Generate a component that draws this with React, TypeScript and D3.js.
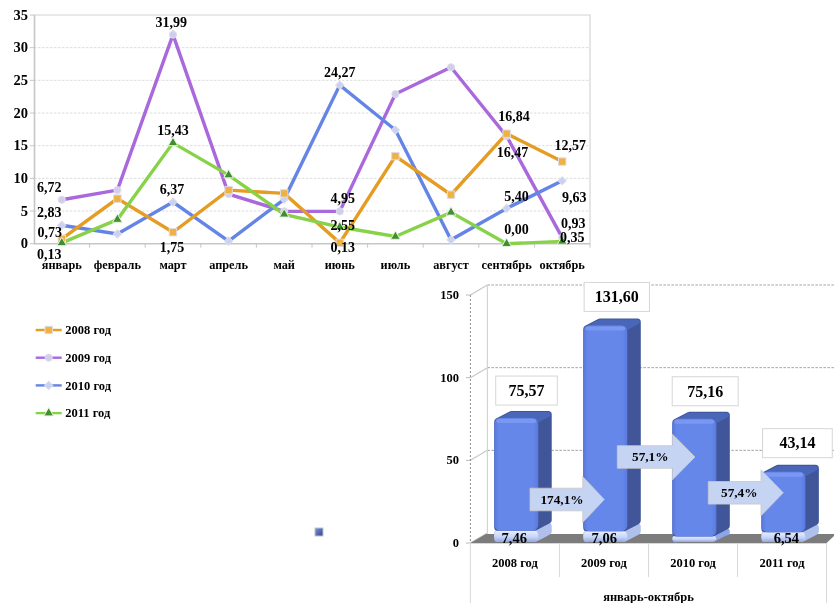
import React from "react";
import * as d3 from "d3";

const months = ["январь","февраль","март","апрель","май","июнь","июль","август","сентябрь","октябрь"];
const seriesNames = ["2008 год","2009 год","2010 год","2011 год"];
const v2008 = [0.73,6.9,1.75,8.2,7.7,0.13,13.4,7.5,16.84,12.57];
const v2009 = [6.72,8.2,31.99,7.6,4.95,4.95,22.9,27,16.47,0.93];
const v2010 = [2.83,1.5,6.37,0.4,6.8,24.27,17.4,0.6,5.40,9.63];
const v2011 = [0.13,3.7,15.43,10.5,4.5,2.55,1.1,4.8,0.00,0.35];
const yearTicks = [0,5,10,15,20,25,30,35];

const years = ["2008 год","2009 год","2010 год","2011 год"];
const totals = [75.57,131.60,75.16,43.14];
const lows = [7.46,7.06,4.0,6.54];
const lowShown = [true,true,false,true];
const totalTicks = [0,50,100,150];
const pctLabels = ["174,1%","57,1%","57,4%"];

const FONT = "'Liberation Serif','Times New Roman',serif";
const colors = ["#E59C22","#A968DC","#6585E6","#88D24A"];
const markerFill = ["#F0B142","#CFCFEC","#C9D2F2","#3F8F2E"];
const fmt = (v:number)=>v.toFixed(2).replace(".",",");

// label placement: series, month, dx, dy
const labelPlace:[number,number,number,number][] = [
 [1,0,-12.5,-12.5],[2,0,-12.5,-13],[0,0,-12,-6.6],[3,0,-12.5,11.5],
 [1,2,-1.7,-12],[3,2,0,-12.5],[2,2,-1,-13],[0,2,-1,15.4],
 [2,5,0,-12.3],[1,5,3,-12.7],[3,5,3,-1.3],[0,5,3,4.4],
 [0,8,7.4,-17.7],[1,8,6,16.3],[2,8,10,-11.8],[3,8,10,-14.4],
 [0,9,8,-16.5],[2,9,12,16.7],[1,9,11,-14.3],[3,9,10,-4],
];
// value boxes: left, width (relative to band left)
const boxPlace:[number,number][] = [[25.3,61.6],[24.7,65.3],[23.7,66],[25,69.7]];
// arrows: x0, x1, headX, tipY, text offset
const arrowPlace:[number,number,number,number,number][] = [[530,604.3,582.7,499.5,32],[617.3,695,672.3,457,33],[708.3,783.3,761,492.8,31]];
const lowLabelShift = [-2,-1,0,3];

function Marker({s,x,y}:{s:number,x:number,y:number}){
  const st={fill:markerFill[s],stroke:s===3?"#E8F0E0":"#DDDDE8",strokeWidth:1};
  if(s===0) return <rect x={x-3.7} y={y-3.7} width={7.4} height={7.4} {...st}/>;
  if(s===3) return <path d={d3.symbol(d3.symbolTriangle,40)()!} transform={`translate(${x},${y})`} {...st}/>;
  if(s===1) return <circle cx={x} cy={y} r={3.6} {...st}/>;
  return <path d={d3.symbol(d3.symbolSquare,34)()!} transform={`translate(${x},${y}) rotate(45)`} {...st}/>;
}

export default function App(){
  const all=[v2008,v2009,v2010,v2011];
  const x=d3.scaleBand<string>().domain(months).range([34,590]);
  const y=d3.scaleLinear().domain([0,35]).range([243.7,15]);
  const cx=(i:number)=>x(months[i])!+x.bandwidth()/2;
  const line=d3.line<number>().x((_,i)=>cx(i)).y(d=>y(d));

  const bx=d3.scaleBand<string>().domain(years).range([470.4,826.6]);
  const by=d3.scaleLinear().domain([0,150]).range([543,295]);
  const barW=44, dX=13.5, dY=7, wallX=17, wallY=10;
  const bl=(i:number)=>bx(years[i])!+bx.bandwidth()/2-barW/2+1.3;
  const floorPts=[[470.4,543],[486,534],[834,534],[834,536],[826.6,543]];

  return (
  <svg width={834} height={603} viewBox="0 0 834 603" style={{position:"absolute",left:0,top:0,background:"#fff"}} fontFamily={FONT} fontWeight="bold" fill="#000">
    <defs>
      <filter id="soft" x="0" y="0" width="100%" height="100%"><feGaussianBlur stdDeviation="0.35"/></filter>
      <linearGradient id="front" x1="0" x2="1" y1="0" y2="0">
        <stop offset="0" stopColor="#5676D8"/><stop offset="0.1" stopColor="#6687EA"/>
        <stop offset="0.88" stopColor="#6687EA"/><stop offset="1" stopColor="#5A7AE0"/>
      </linearGradient>
      <linearGradient id="pill" x1="0" x2="0" y1="0" y2="1">
        <stop offset="0" stopColor="#EEF2FF"/><stop offset="0.6" stopColor="#C6D4F6"/><stop offset="1" stopColor="#8FA6E6"/>
      </linearGradient>
      <linearGradient id="sq" x1="0" x2="1" y1="0" y2="1">
        <stop offset="0" stopColor="#7A94E8"/><stop offset="1" stopColor="#2F4488"/>
      </linearGradient>
    </defs>
    <g filter="url(#soft)">
    {/* line chart */}
    {yearTicks.slice(1,-1).map(t=><line key={t} x1={34} x2={590} y1={y(t)} y2={y(t)} stroke="#DCDCDC" strokeWidth={1} strokeDasharray="2.5 1.5"/>)}
    <path d={`M34,${y(35)}H590V${y(0)}`} fill="none" stroke="#D4D4D4" strokeWidth={1.2}/>
    <path d={`M34.5,${y(35)}V${y(0)}H590`} fill="none" stroke="#C6C6C6" strokeWidth={1.6}/>
    {yearTicks.map(t=><line key={t} x1={30} x2={34} y1={y(t)} y2={y(t)} stroke="#C6C6C6"/>)}
    {months.map((m)=><line key={m} x1={x(m)!+x.bandwidth()} x2={x(m)!+x.bandwidth()} y1={y(0)} y2={y(0)+4} stroke="#C6C6C6"/>)}
    {yearTicks.map(t=><text key={t} x={28} y={y(t)} dy="0.33em" textAnchor="end" fontSize={14.5}>{t}</text>)}
    {months.map((m,i)=><text key={m} x={cx(i)} y={268.5} textAnchor="middle" fontSize={12.3}>{m}</text>)}
    {[1,2,0,3].map(s=><path key={s} d={line(all[s])!} fill="none" stroke={colors[s]} strokeWidth={3.4}/>)}
    {[1,2,0,3].map(s=>all[s].map((v,i)=><Marker key={s+"-"+i} s={s} x={cx(i)} y={y(v)}/>))}
    {labelPlace.map(([s,m,dx,dy])=><text key={s+"_"+m} x={cx(m)+dx} y={y(all[s][m])+dy} dy="0.33em" textAnchor="middle" fontSize={14}>{fmt(all[s][m])}</text>)}

    {/* legend */}
    {seriesNames.map((n,s)=>{const ly=330+s*27.7;return <g key={n}>
      <line x1={35.7} x2={61.7} y1={ly} y2={ly} stroke={colors[s]} strokeWidth={2.4}/>
      <Marker s={s} x={48.7} y={ly}/>
      <text x={65.3} y={ly} dy="0.33em" fontSize={12.5}>{n}</text>
    </g>})}
    <rect x={315} y={528} width={8} height={8} fill="url(#sq)" stroke="#C4C4C4" strokeWidth={1}/>

    {/* 3D bar chart */}
    {totalTicks.map(t=><g key={t}>
      {t>0&&<line x1={470.4+wallX} x2={834} y1={by(t)-wallY} y2={by(t)-wallY} stroke="#A0A0A0" strokeWidth={1} strokeDasharray="2.5 1.5"/>}
      <line x1={470.4} x2={470.4+wallX} y1={by(t)} y2={by(t)-wallY} stroke="#C8C8C8" strokeWidth={1.2}/>
      <line x1={466} x2={470.4} y1={by(t)} y2={by(t)} stroke="#BBB"/>
      <text x={459} y={by(t)} dy="0.33em" textAnchor="end" fontSize={12.5}>{t}</text>
    </g>)}
    <line x1={470.4} x2={470.4} y1={295} y2={543} stroke="#8C8C8C" strokeDasharray="2 2"/>
    <line x1={487.4} x2={487.4} y1={285} y2={534} stroke="#D4D4D4" strokeWidth={1.2}/>
    <polygon points={floorPts.map(p=>p.join(",")).join(" ")} fill="#7C7C7C"/>
    <path d="M470.4,543V603M826.6,543V603" stroke="#D8D8D8" fill="none"/>
    <line x1={470.4} x2={826.6} y1={543.5} y2={543.5} stroke="#D8D8D8"/>
    {years.map((_,i)=>i>0&&<line key={i} x1={bx(years[i])!} x2={bx(years[i])!} y1={543} y2={577} stroke="#D8D8D8"/>)}
    {years.map(n=><text key={n} x={bx(n)!+bx.bandwidth()/2} y={563} dy="0.33em" textAnchor="middle" fontSize={12.5}>{n}</text>)}
    <text x={648.5} y={597} dy="0.33em" textAnchor="middle" fontSize={12.5}>январь-октябрь</text>

    {totals.map((v,i)=>{
      const l=bl(i), r=l+barW, t=by(v), b=by(lows[i]), f=by(0)-1;
      const inset=3.5;
      const silhouette=(top:number,bot:number)=>`M${l+inset},${top+inset}L${l+dX+inset},${top-dY+inset}H${r+dX-inset}V${bot-dY-inset}L${r-inset},${bot-inset}H${l+inset}Z`;
      const topFace=`M${l+inset},${t+inset}L${l+dX+inset},${t-dY+inset}H${r+dX-inset}L${r-inset},${t+inset}Z`;
      return <g key={i}>
        <path d={silhouette(b-1,f)} fill={lowShown[i]?"#AFC0EC":"#8FA6E6"} stroke={lowShown[i]?"#AFC0EC":"#8FA6E6"} strokeWidth={inset*2} strokeLinejoin="round"/>
        <rect x={l} y={b-1} width={barW} height={Math.max(f-b+1,3)} rx={5.5} fill="url(#pill)"/>
        <path d={silhouette(t,b)} fill="#3F5699" stroke="#3F5699" strokeWidth={inset*2} strokeLinejoin="round"/>
        <path d={topFace} fill="#4A66B8" stroke="#4A66B8" strokeWidth={inset*2-2} strokeLinejoin="round"/>
        <rect x={l} y={t} width={barW} height={b-t} rx={6} fill="url(#front)"/>
        <rect x={l+2} y={t+1} width={barW-4} height={4} rx={2} fill="#7F9CF2" opacity={0.8}/>
      </g>;
    })}
    {totals.map((v,i)=>{
      const [dx,w]=boxPlace[i]; const bL=bx(years[i])!+dx; const bT=by(v)-(i===3?43:i===1?43:42);
      return <g key={i}>
        <rect x={bL} y={bT} width={w} height={29} fill="#fff" stroke="#D6D6D6" strokeWidth={1}/>
        <text x={bL+w/2} y={bT+14.5} dy="0.33em" textAnchor="middle" fontSize={16}>{fmt(v)}</text>
      </g>;
    })}
    {lows.map((v,i)=>lowShown[i]&&<text key={i} x={bl(i)+barW/2+lowLabelShift[i]} y={538} dy="0.33em" textAnchor="middle" fontSize={14.5}>{fmt(v)}</text>)}
    {arrowPlace.map(([a,z,h,c,o],i)=><g key={i}>
      <polygon points={`${a},${c-11.3} ${h},${c-11.3} ${h},${c-23} ${z},${c} ${h},${c+23} ${h},${c+11.3} ${a},${c+11.3}`} fill="#C6D4F4" stroke="#C8C8C8" strokeWidth={0.8}/>
      <text x={a+o} y={c} dy="0.33em" textAnchor="middle" fontSize={13.3}>{pctLabels[i]}</text>
    </g>)}
    </g>
  </svg>);
}
